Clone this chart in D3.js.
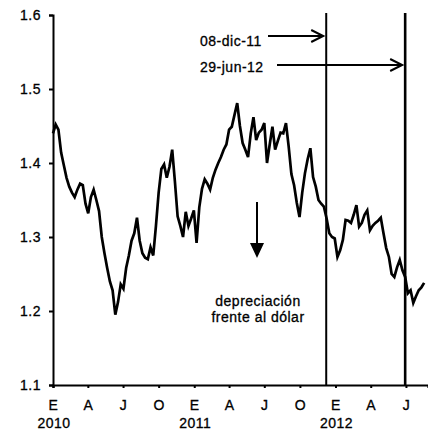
<!DOCTYPE html>
<html><head><meta charset="utf-8">
<script src="https://cdn.jsdelivr.net/npm/d3@7"></script>
<style>
body{margin:0;background:#fff}
svg{display:block}
text{font-family:"Liberation Sans",Arial,sans-serif;fill:#000;font-size:14px;letter-spacing:0.5px;stroke:#000;stroke-width:0.3px}
</style>
</head><body><svg id="c" width="428" height="431"></svg>
<script>
// ---- data ----
const seriesStart = "2010-01-01"; // first weekly observation
const weeklyValues = [
1.440,1.452,1.445,1.414,1.397,1.380,1.368,1.360,1.354,1.364,
1.372,1.370,1.345,1.332,1.354,1.364,1.350,1.335,1.300,1.278,
1.258,1.240,1.228,1.195,1.212,1.236,1.230,1.258,1.275,1.295,
1.305,1.326,1.295,1.278,1.272,1.270,1.286,1.275,1.315,1.360,
1.392,1.398,1.380,1.395,1.418,1.375,1.328,1.315,1.300,1.334,
1.315,1.325,1.336,1.292,1.340,1.365,1.378,1.372,1.364,1.380,
1.391,1.400,1.408,1.418,1.425,1.445,1.449,1.465,1.481,1.450,
1.427,1.418,1.408,1.440,1.462,1.431,1.441,1.445,1.454,1.400,
1.425,1.449,1.418,1.430,1.441,1.440,1.454,1.422,1.385,1.370,
1.346,1.327,1.360,1.386,1.405,1.420,1.381,1.368,1.350,1.345,
1.341,1.325,1.305,1.300,1.298,1.273,1.282,1.296,1.323,1.322,
1.319,1.330,1.343,1.314,1.319,1.330,1.336,1.309,1.315,1.319,
1.322,1.326,1.305,1.285,1.273,1.250,1.246,1.259,1.269,1.255,
1.246,1.224,1.228,1.211,1.220,1.228,1.232,1.238
];
const yTicks = [1.1, 1.2, 1.3, 1.4, 1.5, 1.6];
const xTickDates = ["2010-01-01","2010-04-01","2010-07-01","2010-10-01",
                    "2011-01-01","2011-04-01","2011-07-01","2011-10-01",
                    "2012-01-01","2012-04-01","2012-07-01"];
const xTickLabels = ["E","A","J","O","E","A","J","O","E","A","J"];
const yearDates = ["2010-01-01","2011-01-01","2012-01-01"];
const yearLabels = ["2010","2011","2012"];
const markerDates = ["2011-12-08","2012-06-29"];
const markerLabels = ["08-dic-11","29-jun-12"];
const noteLines = ["depreciación","frente al dólar"];

// ---- chart ----
const parse = d3.timeParse("%Y-%m-%d");
const t0 = parse(seriesStart);
const data = weeklyValues.map((v,i)=>({date:d3.timeDay.offset(t0, 7*i), value:v}));

const svg = d3.select("#c");
const x = d3.scaleTime().domain([parse("2010-01-01"), parse("2012-08-27")]).range([53, 428]);
const y = d3.scaleLinear().domain([1.1, 1.6]).range([385, 15]);

// y axis
const yAxis = svg.append("g").attr("transform","translate(53,0)")
  .call(d3.axisLeft(y).tickValues(yTicks).tickFormat(d3.format(".1f")).tickSize(4).tickPadding(8));
yAxis.select(".domain").attr("stroke","#000").attr("stroke-width",2);
yAxis.selectAll(".tick line").attr("stroke","#000").attr("stroke-width",2);
yAxis.selectAll(".tick text").style("font-size","14px").attr("fill","#000");

// x axis
const xAxis = svg.append("g").attr("transform","translate(0,385)")
  .call(d3.axisBottom(x).tickValues(xTickDates.map(parse)).tickFormat((d,i)=>xTickLabels[i]).tickSizeOuter(0).tickSize(3).tickPadding(12));
xAxis.select(".domain").attr("stroke","#000").attr("stroke-width",2.2);
xAxis.selectAll(".tick line").attr("stroke","#000").attr("stroke-width",2);
xAxis.selectAll(".tick text").style("font-size","14px").attr("fill","#000");

svg.append("g").selectAll("text").data(yearDates).join("text")
  .attr("x", d=>x(parse(d))+1).attr("y", 428)
  .attr("text-anchor","middle").text((d,i)=>yearLabels[i]);

// series
svg.append("path").datum(data)
  .attr("fill","none").attr("stroke","#000").attr("stroke-width",2.7).attr("stroke-linejoin","miter")
  .attr("d", d3.line().x(d=>x(d.date)).y(d=>y(d.value)));

// marker vertical lines
svg.append("g").selectAll("line").data(markerDates).join("line")
  .attr("x1", d=>x(parse(d))).attr("x2", d=>x(parse(d)))
  .attr("y1", y(1.6)-2).attr("y2", y(1.1))
  .attr("stroke","#000").attr("stroke-width",(d,i)=>i?2.6:2);

// marker labels & arrows
const labelY = [46, 72];
const arrowY = [36, 65];
const arrowStart = [268, 277];
markerLabels.forEach((lab,i)=>{
  svg.append("text").attr("x",200).attr("y",labelY[i]).text(lab);
  const xe = x(parse(markerDates[i])) - 3;
  svg.append("line").attr("x1",arrowStart[i]).attr("x2",xe).attr("y1",arrowY[i]).attr("y2",arrowY[i])
    .attr("stroke","#000").attr("stroke-width",2);
  svg.append("path").attr("d",`M${xe-12},${arrowY[i]-6}L${xe},${arrowY[i]}L${xe-12},${arrowY[i]+6}`)
    .attr("fill","none").attr("stroke","#000").attr("stroke-width",2);
});

// down arrow & note
svg.append("line").attr("x1",257).attr("x2",257).attr("y1",202).attr("y2",245)
  .attr("stroke","#000").attr("stroke-width",2);
svg.append("path").attr("d","M250,243L264,243L257,258Z").attr("fill","#000");
svg.append("g").selectAll("text").data(noteLines).join("text")
  .attr("x",258).attr("y",(d,i)=>306+i*16).attr("text-anchor","middle").text(d=>d);
</script>
</body></html>
